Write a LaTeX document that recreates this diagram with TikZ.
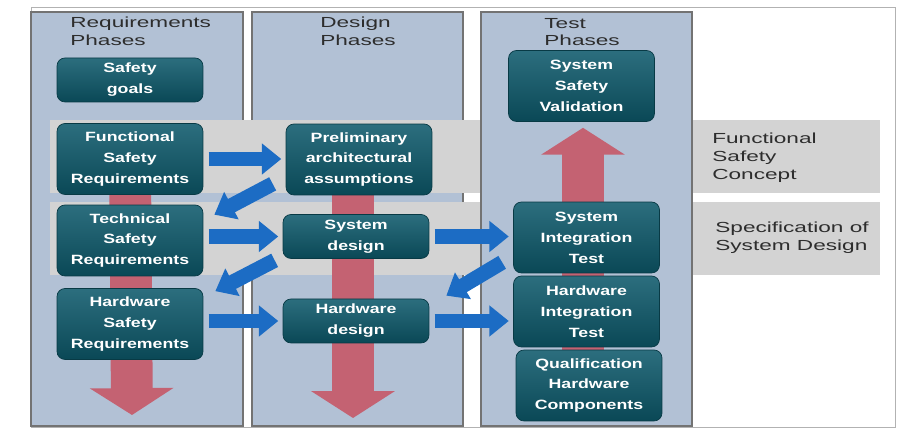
\documentclass[tikz,border=0pt]{standalone}
\usepackage{fontspec}
\newfontfamily\phasefont[FakeStretch=1.55]{Liberation Sans}
\newfontfamily\stagefont[FakeStretch=1.32]{Liberation Sans}
\usepackage{tikz}
\usetikzlibrary{arrows.meta}
\usetikzlibrary{calc}
\definecolor{colfill}{RGB}{178,193,213}
\definecolor{bandfill}{RGB}{211,211,211}
\definecolor{stagetop}{RGB}{44,110,126}
\definecolor{stagebottom}{RGB}{10,72,86}
\definecolor{flowblue}{RGB}{28,108,196}
\definecolor{flowred}{RGB}{196,98,114}
\definecolor{labelgray}{RGB}{45,45,45}

\begin{document}
\begin{tikzpicture}
		[x=0.02cm, y=-0.02cm,
		phase/.style={draw=black!55, fill=colfill, line width=0.6pt},
		band/.style={fill=bandfill},
		stage/.style={rounded corners=0.16cm, top color=stagetop, bottom color=stagebottom, draw=stagebottom!80!black, text=white, align=center, inner sep=0pt, minimum width=2.92cm, minimum height=1.42cm, font=\stagefont\bfseries\fontsize{7.65}{11.9}\selectfont},
		short/.style={minimum height=0.88cm},
		phasetext/.style={anchor=north west, align=left, inner sep=0pt, text=labelgray, font=\phasefont\fontsize{8.3}{10}\selectfont},
		flow/.style={draw=flowblue, line width=8.5pt, -{Triangle[width=17pt,length=11pt]}},
		across/.style={flow, shorten <=3pt, shorten >=2.5pt},
		backflow/.style={draw=flowred, line width=23.8pt, -{Triangle[width=47pt,length=15.3pt]}}]
		\useasboundingbox (0,0) rectangle (909,431);
		\draw[gray!60, line width=0.5pt] (31,7) rectangle (895,427);
		\draw[phase] (31,12) rectangle (243,426);
		\draw[phase] (252,12) rectangle (463,426);
		\fill[band] (50,120) rectangle (880,193);
		\fill[band] (50,202) rectangle (880,275);
		\draw[phase] (481,12) rectangle (692,426);
		\coordinate (sgpos) at (130,80);
		\coordinate (fsrpos) at (130,159);
		\coordinate (tsrpos) at (130,240.5);
		\coordinate (hsrpos) at (130,324);
		\coordinate (prepos) at (359,159.5);
		\coordinate (sysdpos) at (356,236.5);
		\coordinate (hwdpos) at (356,321);
		\coordinate (ssvpos) at (581.5,86);
		\coordinate (sitpos) at (586.5,237.5);
		\coordinate (hitpos) at (586.5,311.5);
		\coordinate (qhcpos) at (589,385.5);
		\coordinate (reqend) at (132,415);
		\coordinate (desend) at (353,418);
		\coordinate (teststart) at (583,350);
		\draw (70,17) node[phasetext] (reqlabel) {Requirements\\Phases};
		\draw (320,17) node[phasetext] (deslabel) {Design\\Phases};
		\draw (544,18) node[phasetext] (testlabel) {Test\\Phases};
		\draw (712,133) node[phasetext] (fsclabel) {Functional\\Safety\\Concept};
		\draw (715,222) node[phasetext] (ssdlabel) {Specification of\\System Design};
		\draw[backflow] (fsrpos) -- (reqend);
		\draw[backflow] (prepos -| desend) -- (desend);
		\draw (sgpos) node[stage, short] (sg) {Safety\\goals};
		\draw (fsrpos) node[stage] (fsr) {Functional\\Safety\\Requirements};
		\draw (tsrpos) node[stage] (tsr) {Technical\\Safety\\Requirements};
		\draw (hsrpos) node[stage] (hsr) {Hardware\\Safety\\Requirements};
		\draw (prepos) node[stage] (pre) {Preliminary\\architectural\\assumptions};
		\draw (sysdpos) node[stage, short] (sysd) {System\\design};
		\draw (hwdpos) node[stage, short] (hwd) {Hardware\\design};
		\draw (ssvpos) node[stage] (ssv) {System\\Safety\\Validation};
		\draw[backflow, shorten >=3.4pt] (teststart) -- (teststart |- ssv.south);
		\draw (sitpos) node[stage] (sit) {System\\Integration\\Test};
		\draw (hitpos) node[stage] (hit) {Hardware\\Integration\\Test};
		\draw (qhcpos) node[stage] (qhc) {Qualification\\Hardware\\Components};
		\draw[across] (fsr.east) -- (pre.west |- fsr.east);
		\draw[across] (tsr.east |- sysd.west) -- (sysd.west);
		\draw[across] (hsr.east |- hwd.west) -- (hwd.west);
		\draw[across] (sysd.east) -- (sit.west |- sysd.east);
		\draw[across] (hwd.east) -- (hit.west |- hwd.east);
		\draw[flow] ([shift={(-13,-11.5)}]pre.south west) -- ([shift={(11,10)}]tsr.north east);
		\draw[flow] ([shift={(-8,1.5)}]sysd.south west) -- ([shift={(12,3)}]hsr.north east);
		\draw[flow] ([shift={(-11,-11)}]sit.south west) -- ([shift={(17,-3)}]hwd.north east);
	\end{tikzpicture}
\end{document}
